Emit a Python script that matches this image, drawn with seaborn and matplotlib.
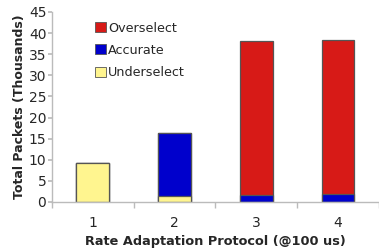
import matplotlib
matplotlib.use("Agg")
import matplotlib.pyplot as plt
import seaborn as sns
import pandas as pd
import numpy as np
from matplotlib.patches import Patch

categories = ["1", "2", "3", "4"]
underselect = [9.3, 1.4, 0.0, 0.0]
accurate = [0.0, 14.9, 1.6, 1.8]
overselect = [0.0, 0.0, 36.6, 36.6]
yticks = [0, 5, 10, 15, 20, 25, 30, 35, 40, 45]

c_over = "#D71A17"
c_acc = "#0000CC"
c_under = "#FFF58F"
edge = "#555555"

sns.set_theme(style="white")
plt.rcParams["font.family"] = ["DejaVu Sans"]

under_arr = np.array(underselect)
acc_arr = np.array(accurate)
over_arr = np.array(overselect)

df = pd.DataFrame({
    "cat": categories,
    "total": under_arr + acc_arr + over_arr,
    "ua": under_arr + acc_arr,
    "u": under_arr,
})

fig = plt.figure(figsize=(3.79, 2.49), dpi=100)
ax = fig.add_axes([0.137, 0.189, 0.863, 0.763])

for col, color in [("total", c_over), ("ua", c_acc), ("u", c_under)]:
    sns.barplot(data=df, x="cat", y=col, color=color, width=0.4,
                edgecolor=edge, linewidth=0.9, saturation=1, ax=ax)

ax.set_ylim(0, 45)
ax.set_xlim(-0.5, 3.5)
ax.set_yticks(yticks)
ax.set_yticklabels([str(t) for t in yticks], fontsize=10)
ax.tick_params(axis="x", which="major", length=0, labelsize=10, pad=10)
ax.set_xticks(np.arange(-0.5, 4.0, 1.0), minor=True)
ax.tick_params(axis="x", which="minor", length=4, color="#BBBBBB", direction="out", bottom=True)
ax.tick_params(axis="y", length=3, color="#BBBBBB", direction="out", left=True, pad=1)

for s in ["top", "right"]:
    ax.spines[s].set_visible(False)
for s in ["left", "bottom"]:
    ax.spines[s].set_color("#BBBBBB")
    ax.spines[s].set_linewidth(1)

ax.set_xlabel("Rate Adaptation Protocol (@100 us)", fontsize=9.3, fontweight="bold", labelpad=4)
ax.set_ylabel("Total Packets (Thousands)", fontsize=9, fontweight="bold", labelpad=2)

handles = [Patch(facecolor=c_over, edgecolor=edge, linewidth=0.6),
           Patch(facecolor=c_acc, edgecolor=edge, linewidth=0.6),
           Patch(facecolor=c_under, edgecolor=edge, linewidth=0.6)]
ax.legend(handles, ["Overselect", "Accurate", "Underselect"], loc="upper left",
          bbox_to_anchor=(0.115, 0.976), frameon=False, fontsize=9.2,
          handlelength=0.85, handleheight=0.85, handletextpad=0.2, labelspacing=0.72,
          borderaxespad=0)

fig.savefig("out.png", dpi=100)
